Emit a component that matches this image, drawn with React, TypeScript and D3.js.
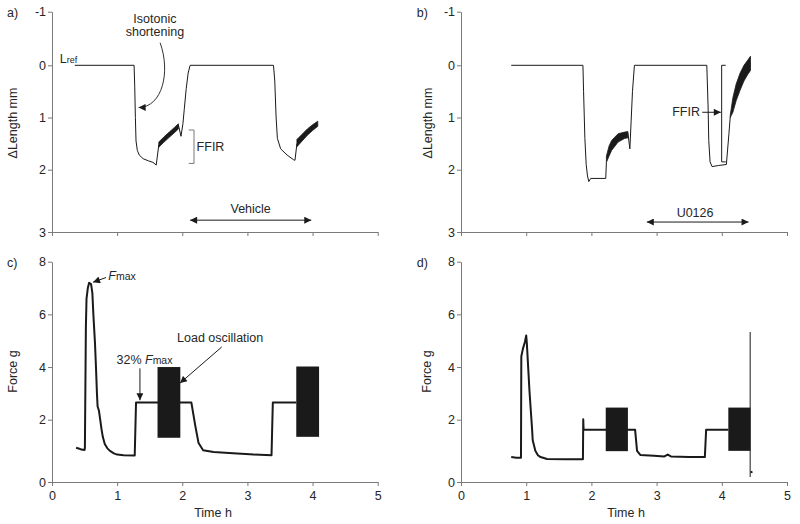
import React, { useEffect, useRef } from 'react'
import * as d3 from 'd3'

type Pt = [number, number]
type Band = [number, number, number] // time, top edge, bottom edge
type Block = [number, number, number, number] // start, end, low, high

const hourTicks = [0, 1, 2, 3, 4, 5]
const lengthTicks = [-1, 0, 1, 2, 3]
const forceTicks = [0, 2, 4, 6, 8]

// a) length trace, vehicle
const lengthA1: Pt[] = [
  [0.35, 0], [1.26, 0], [1.27, 0.4], [1.28, 1.0], [1.29, 1.45], [1.31, 1.63], [1.34, 1.72],
  [1.40, 1.79], [1.48, 1.83], [1.55, 1.86], [1.60, 1.91], [1.64, 1.52],
]
const bandA1: Band[] = [
  [1.64, 1.47, 1.57], [1.72, 1.37, 1.47], [1.80, 1.28, 1.38], [1.88, 1.19, 1.29], [1.94, 1.12, 1.22],
]
const lengthA2: Pt[] = [
  [1.94, 1.14], [1.98, 1.36], [2.01, 1.12], [2.03, 0.85], [2.06, 0.45], [2.09, 0.15], [2.12, 0],
  [3.40, 0], [3.42, 0.3], [3.44, 0.99], [3.46, 1.40], [3.51, 1.60], [3.61, 1.72], [3.71, 1.81],
  [3.73, 1.82], [3.76, 1.50],
]
const bandA2: Band[] = [
  [3.76, 1.42, 1.56], [3.84, 1.32, 1.45], [3.92, 1.22, 1.34], [4.00, 1.14, 1.25], [4.08, 1.07, 1.17],
]

// b) length trace, U0126
const lengthB1: Pt[] = [
  [0.77, 0], [1.87, 0], [1.88, 0.5], [1.90, 1.4], [1.92, 1.9], [1.94, 2.1], [1.96, 2.19],
  [1.99, 2.14], [2.22, 2.14], [2.23, 1.86],
]
const bandB1: Band[] = [
  [2.23, 1.74, 1.86], [2.27, 1.55, 1.74], [2.31, 1.44, 1.63], [2.41, 1.31, 1.47], [2.51, 1.28, 1.40],
  [2.56, 1.27, 1.39],
]
const lengthB2: Pt[] = [
  [2.56, 1.30], [2.59, 1.60], [2.61, 1.05], [2.63, 0.5], [2.66, 0],
  [3.77, 0], [3.79, 0.8], [3.80, 1.44], [3.82, 1.85], [3.85, 1.94], [3.95, 1.92], [4.07, 1.90],
  [4.11, 1.3], [4.13, 0.98],
]
const bandB2: Band[] = [
  [4.13, 0.95, 1.0], [4.17, 0.62, 0.9], [4.22, 0.36, 0.68], [4.28, 0.15, 0.48], [4.34, 0.0, 0.3],
  [4.40, -0.1, 0.17], [4.44, -0.17, 0.1],
]

// c) force trace, vehicle
const forceC: Pt[] = [
  [0.37, 1.1], [0.42, 1.07], [0.45, 1.04], [0.50, 1.03], [0.505, 1.1], [0.52, 5.5], [0.53, 6.6],
  [0.55, 7.0], [0.57, 7.2], [0.60, 7.15], [0.62, 6.8], [0.635, 6.0], [0.66, 4.9], [0.675, 4.0],
  [0.69, 3.0], [0.70, 2.5], [0.72, 2.35], [0.74, 2.0], [0.76, 1.7], [0.78, 1.45], [0.81, 1.22],
  [0.85, 1.08], [0.89, 1.0], [0.95, 0.92], [1.0, 0.88], [1.1, 0.86], [1.27, 0.85], [1.29, 2.65],
  [2.14, 2.65], [2.17, 2.2], [2.20, 1.8], [2.25, 1.25], [2.32, 1.02], [2.48, 0.96], [2.78, 0.92],
  [3.1, 0.88], [3.37, 0.86], [3.39, 2.65], [3.75, 2.65],
]
const blocksC: Block[] = [
  [1.62, 1.97, 1.42, 4.0],
  [3.75, 4.10, 1.45, 4.02],
]

// d) force trace, U0126
const forceD: Pt[] = [
  [0.77, 0.8], [0.85, 0.78], [0.92, 0.78], [0.925, 4.4], [0.95, 4.7], [0.98, 4.95], [1.0, 5.2],
  [1.01, 4.9], [1.03, 4.0], [1.05, 3.1], [1.07, 2.37], [1.09, 1.7], [1.10, 1.34], [1.14, 1.0],
  [1.18, 0.86], [1.22, 0.8], [1.32, 0.74], [1.6, 0.73], [1.87, 0.73], [1.875, 2.02], [1.88, 1.68],
  [2.67, 1.68], [2.70, 1.0], [2.75, 0.87], [2.96, 0.84], [3.12, 0.82], [3.17, 0.88], [3.22, 0.82],
  [3.5, 0.8], [3.74, 0.8], [3.76, 1.68], [4.10, 1.68],
]
const blocksD: Block[] = [
  [2.22, 2.56, 0.99, 2.46],
  [4.10, 4.44, 1.0, 2.46],
]
const spikeD: Pt[] = [[4.435, 5.33], [4.435, 0.16]]
const tailD: Pt[] = [[4.44, 0.31], [4.47, 0.33]]

const font = '"Liberation Sans", Arial, Helvetica, sans-serif'
const ink = '#1a1a1a'
const textColor = '#262626'
const axisColor = '#7a7a7a'

const xLeft = d3.scaleLinear().domain([0, 5]).range([52, 377.7])
const xRight = d3.scaleLinear().domain([0, 5]).range([461, 787])
// the printed axes give the lowest interval more room than the others
const yLen = d3.scaleLinear().domain([-1, 0, 2, 3]).range([11.7, 65.3, 169.7, 232])
const yForce = d3.scaleLinear().domain([0, 2, 8]).range([482, 419.7, 261.7])

function Axis({ axis, transform }: { axis: any; transform: string }) {
  const ref = useRef<SVGGElement>(null)
  useEffect(() => {
    const g = d3.select(ref.current)
    g.call(axis)
    g.attr('font-family', font).attr('font-size', 12.5)
    g.select('.domain').attr('stroke', axisColor)
    g.selectAll('.tick line').attr('stroke', axisColor)
    g.selectAll('.tick text').attr('fill', textColor)
  })
  return <g ref={ref} transform={transform} />
}

function Frame({ x, y, ticks, showHours }: { x: any; y: any; ticks: number[]; showHours: boolean }) {
  const yAxis = d3
    .axisLeft(y)
    .tickValues(ticks)
    .tickSize(4)
    .tickSizeOuter(0)
    .tickPadding(2)
    .tickFormat((d: any) => String(d))
  const xAxis = d3
    .axisBottom(x)
    .tickValues(hourTicks)
    .tickSize(4)
    .tickSizeOuter(0)
    .tickPadding(5)
    .tickFormat((d: any) => (showHours ? String(d) : ''))
  const bottom = d3.max(y.range() as number[]) as number
  return (
    <g>
      <Axis axis={yAxis} transform={`translate(${x(0)},0)`} />
      <Axis axis={xAxis} transform={`translate(0,${bottom})`} />
    </g>
  )
}

export default function App() {
  const lineL = (x: any, y: any) => d3.line<Pt>().x((d) => x(d[0])).y((d) => y(d[1]))
  const bandArea = (x: any, y: any) =>
    d3.area<Band>().x((d) => x(d[0])).y0((d) => y(d[2])).y1((d) => y(d[1]))

  const txt = { fontFamily: font, fill: textColor, fontSize: 12.5 }

  const curve = d3.path()
  curve.moveTo(xLeft(1.66), yLen(-0.42))
  curve.bezierCurveTo(xLeft(1.82), yLen(0.12), xLeft(1.7), yLen(0.8), xLeft(1.33), yLen(0.81))

  return (
    <svg
      width={800}
      height={524}
      style={{ position: 'absolute', left: 0, top: 0, background: '#fff' }}
    >
      <defs>
        <marker
          id="head"
          viewBox="0 0 10 10"
          refX={10}
          refY={5}
          markerWidth={8}
          markerHeight={7}
          markerUnits="userSpaceOnUse"
          orient="auto-start-reverse"
        >
          <path d="M0,0L10,5L0,10z" fill={ink} />
        </marker>
      </defs>

      {/* a) */}
      <Frame x={xLeft} y={yLen} ticks={lengthTicks} showHours={false} />
      {[lengthA1, lengthA2].map((s, i) => (
        <path key={'la' + i} d={lineL(xLeft, yLen)(s) || ''} fill="none" stroke={ink} strokeWidth={1} />
      ))}
      {[bandA1, bandA2].map((b, i) => (
        <path key={'ba' + i} d={bandArea(xLeft, yLen)(b) || ''} fill={ink} stroke={ink} strokeWidth={0.8} />
      ))}
      <text x={7} y={17} style={txt} fontSize={13}>a)</text>
      <text transform="translate(17,123) rotate(-90)" textAnchor="middle" style={txt} fontSize={13}>
        ΔLength mm
      </text>
      <text x={xLeft(1.58)} y={yLen(-0.785)} textAnchor="middle" style={txt}>Isotonic</text>
      <text x={xLeft(1.58)} y={yLen(-0.54)} textAnchor="middle" style={txt}>shortening</text>
      <path d={curve.toString()} fill="none" stroke={ink} strokeWidth={0.9} markerEnd="url(#head)" />
      <text x={xLeft(0.12)} y={yLen(-0.04)} style={txt} fontSize={13}>
        L<tspan fontSize={9}>ref</tspan>
      </text>
      <path
        d={`M${xLeft(2.1)},${yLen(1.24)}H${xLeft(2.18)}V${yLen(1.88)}H${xLeft(2.1)}`}
        fill="none"
        stroke={axisColor}
        strokeWidth={1}
      />
      <text x={xLeft(2.22)} y={yLen(1.64)} style={txt}>FFIR</text>
      <line
        x1={xLeft(2.12)}
        x2={xLeft(3.98)}
        y1={yLen(2.81)}
        y2={yLen(2.81)}
        stroke={ink}
        strokeWidth={1}
        markerStart="url(#head)"
        markerEnd="url(#head)"
      />
      <text x={xLeft(3.05)} y={yLen(2.69)} textAnchor="middle" style={txt}>Vehicle</text>

      {/* b) */}
      <Frame x={xRight} y={yLen} ticks={lengthTicks} showHours={false} />
      {[lengthB1, lengthB2].map((s, i) => (
        <path key={'lb' + i} d={lineL(xRight, yLen)(s) || ''} fill="none" stroke={ink} strokeWidth={1} />
      ))}
      {[bandB1, bandB2].map((b, i) => (
        <path key={'bb' + i} d={bandArea(xRight, yLen)(b) || ''} fill={ink} stroke={ink} strokeWidth={0.8} />
      ))}
      <text x={416.7} y={17} style={txt} fontSize={13}>b)</text>
      <text transform="translate(432,123) rotate(-90)" textAnchor="middle" style={txt} fontSize={13}>
        ΔLength mm
      </text>
      <path
        d={`M${xRight(4.06)},${yLen(0)}H${xRight(3.998)}V${yLen(1.85)}H${xRight(4.06)}`}
        fill="none"
        stroke={ink}
        strokeWidth={1}
      />
      <text x={xRight(3.665)} y={yLen(0.98)} textAnchor="end" style={txt}>FFIR</text>
      <line
        x1={xRight(3.7)}
        x2={xRight(3.985)}
        y1={yLen(0.9)}
        y2={yLen(0.9)}
        stroke={ink}
        strokeWidth={1}
        markerEnd="url(#head)"
      />
      <line
        x1={xRight(2.85)}
        x2={xRight(4.41)}
        y1={yLen(2.84)}
        y2={yLen(2.84)}
        stroke={ink}
        strokeWidth={1}
        markerStart="url(#head)"
        markerEnd="url(#head)"
      />
      <text x={xRight(3.59)} y={yLen(2.76)} textAnchor="middle" style={txt}>U0126</text>

      {/* c) */}
      <Frame x={xLeft} y={yForce} ticks={forceTicks} showHours={true} />
      <path d={lineL(xLeft, yForce)(forceC) || ''} fill="none" stroke={ink} strokeWidth={2} strokeLinejoin="round" />
      {blocksC.map((b, i) => (
        <rect
          key={'kc' + i}
          x={xLeft(b[0])}
          y={yForce(b[3])}
          width={xLeft(b[1]) - xLeft(b[0])}
          height={yForce(b[2]) - yForce(b[3])}
          fill={ink}
        />
      ))}
      <text x={7} y={266.5} style={txt} fontSize={13}>c)</text>
      <text transform="translate(17,371.5) rotate(-90)" textAnchor="middle" style={txt} fontSize={13}>
        Force g
      </text>
      <text x={213} y={516.5} textAnchor="middle" style={txt} fontSize={13}>Time h</text>
      <text x={xLeft(0.865)} y={yForce(7.31)} style={txt}>
        <tspan fontStyle="italic">F</tspan>
        <tspan fontSize={10.5}>max</tspan>
      </text>
      <line
        x1={xLeft(0.83)}
        y1={yForce(7.4)}
        x2={xLeft(0.63)}
        y2={yForce(7.22)}
        stroke={ink}
        strokeWidth={1}
        markerEnd="url(#head)"
      />
      <text x={xLeft(0.99)} y={yForce(4.12)} style={txt}>
        32% <tspan fontStyle="italic">F</tspan>
        <tspan fontSize={10.5}>max</tspan>
      </text>
      <line
        x1={xLeft(1.35)}
        y1={yForce(3.95)}
        x2={xLeft(1.35)}
        y2={yForce(2.74)}
        stroke={ink}
        strokeWidth={1}
        markerEnd="url(#head)"
      />
      <text x={xLeft(1.92)} y={yForce(4.95)} style={txt}>Load oscillation</text>
      <line
        x1={xLeft(2.605)}
        y1={yForce(4.76)}
        x2={xLeft(1.965)}
        y2={yForce(3.39)}
        stroke={ink}
        strokeWidth={1}
        markerEnd="url(#head)"
      />

      {/* d) */}
      <Frame x={xRight} y={yForce} ticks={forceTicks} showHours={true} />
      <path d={lineL(xRight, yForce)(forceD) || ''} fill="none" stroke={ink} strokeWidth={2} strokeLinejoin="round" />
      <path d={lineL(xRight, yForce)(spikeD) || ''} fill="none" stroke={ink} strokeWidth={1} />
      <path d={lineL(xRight, yForce)(tailD) || ''} fill="none" stroke={ink} strokeWidth={2} />
      {blocksD.map((b, i) => (
        <rect
          key={'kd' + i}
          x={xRight(b[0])}
          y={yForce(b[3])}
          width={xRight(b[1]) - xRight(b[0])}
          height={yForce(b[2]) - yForce(b[3])}
          fill={ink}
        />
      ))}
      <text x={416.7} y={266.5} style={txt} fontSize={13}>d)</text>
      <text transform="translate(431,371.5) rotate(-90)" textAnchor="middle" style={txt} fontSize={13}>
        Force g
      </text>
      <text x={626} y={516.5} textAnchor="middle" style={txt} fontSize={13}>Time h</text>
    </svg>
  )
}
